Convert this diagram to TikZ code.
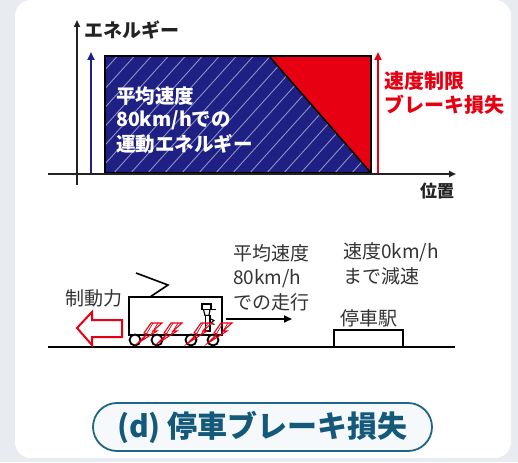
\documentclass[tikz,border=0pt]{standalone}
\usepackage{fontspec}
\setmainfont{Noto Sans CJK JP}
\usetikzlibrary{arrows.meta}
\definecolor{pagebg}{HTML}{E8ECF1}
\definecolor{navy}{HTML}{1E2084}
\definecolor{alarm}{HTML}{E60012}
\definecolor{teal}{HTML}{14597A}
\definecolor{tealline}{HTML}{1D6686}
\definecolor{pillfill}{HTML}{F6F9FB}
\definecolor{ink}{HTML}{222222}
\definecolor{softink}{HTML}{333333}
\newcommand{\fs}[1]{\fontsize{#1}{#1}\selectfont}
\newcommand{\boltpath}{(0,0) -- (9,-9) -- (6,-10) -- (13,-20) -- (24,-20) -- (15,-12) -- (19,-12) -- cycle}
\begin{document}
\begin{tikzpicture}[x=1pt,y=-1pt,
  axis/.style={line width=2pt, ink, -{Triangle[length=7pt,width=6pt]}},
  energyarrow/.style={line width=2.5pt, -{Triangle[length=8pt,width=7pt]}},
  label/.style={inner sep=0pt, text=ink, font=\bfseries\fs{19}},
  note/.style={inner sep=0pt, text=softink, align=left, font=\fs{19}},
  trainline/.style={line width=1.8pt, black},
]
\useasboundingbox (0,0) rectangle (518,462);
\fill[pagebg] (0,0) rectangle (518,462);
\fill[white, rounded corners=16pt] (15,0) rectangle (511,458);

% ---------- energy chart ----------
\coordinate (yb) at (77,185);
\coordinate (yt) at (77,20);
\coordinate (xl) at (48,174);
\coordinate (xr) at (456,174);
\coordinate (r1) at (105,56);
\coordinate (r2) at (269,56);
\coordinate (r3) at (371,56);
\coordinate (r4) at (371,173);
\coordinate (r5) at (105,173);

\fill[navy] (r1) -- (r2) -- (r4) -- (r5) -- cycle;
\begin{scope}
  \clip (r1) -- (r2) -- (r4) -- (r5) -- cycle;
  \foreach \i in {-8,...,18}
    \draw[white, opacity=0.5, line width=0.9pt] (95+\i*17,175) -- ++(112,-124);
\end{scope}
\fill[alarm] (r2) -- (r3) -- (r4) -- cycle;
\draw[line width=1.5pt, black] (r1) rectangle (r4);
\draw[line width=1.5pt, black] (r2) -- (r4);

\draw[axis] (yb) -- (yt);
\draw[axis] (xl) -- (xr);

\coordinate (ba0) at (91,173);
\coordinate (ba1) at (91,52);
\coordinate (ra0) at (378,173);
\coordinate (ra1) at (378,52);
\draw[energyarrow, navy] (ba0) -- (ba1);
\draw[energyarrow, alarm] (ra0) -- (ra1);

\node[label, anchor=west] (elabel) at (84,30) {エネルギー};
\node[label, font=\bfseries\fs{17}] (plabel) at (437,191) {位置};
\node[inner sep=0pt, anchor=west, align=left, text=alarm, font=\bfseries\fs{20}]
  (loss) at (384,93) {速度制限\\[4pt]ブレーキ損失};
\node[inner sep=0pt, anchor=west, align=left, text=white, font=\bfseries\fs{19.5}]
  (kin) at (116,120) {平均速度\\[3.5pt]80km/hでの\\[3.5pt]運動エネルギー};

% ---------- train scene ----------
\coordinate (g0) at (48,347);
\coordinate (g1) at (455,347);
\draw[line width=2pt, black] (g0) -- (g1);

% station
\draw[trainline, fill=white] (334,330) rectangle (403,347);
\node[note, anchor=center] (station) at (369,318) {停車駅};

% pantograph
\coordinate (p0) at (136,273);
\coordinate (p1) at (168,285);
\coordinate (p2) at (150,297);
\draw[line width=1.6pt] (p0) -- (p1) -- (p2);

% car body and wheels
\draw[trainline, fill=white] (129,297) rectangle (222,335);
\foreach \wx in {135,157,191,213}
  \draw[trainline, fill=white] (\wx,340) circle (5.5);

% driver
\draw[line width=1.2pt, fill=white] (202,304) rectangle (211,309.5);
\draw[line width=1.2pt] (201,309.5) -- (216,309.5);
\draw[line width=1.2pt] (203.5,309.5) -- (205,315.5) -- (209,315.5) -- (210,309.5);
\draw[line width=1.2pt, fill=white] (205.5,315.5) rectangle (210,331);
\draw[line width=1.1pt] (210,318.5) -- (214,320.5) -- (210.5,323);
\draw[line width=1.1pt] (210,323) -- (214.5,324.5);

% brake sparks
\foreach \bx in {138,158,188,208}{
  \begin{scope}[shift={(\bx,343)}]
    \begin{scope}
      \clip \boltpath;
      \foreach \k in {-12,-7,...,24}
        \draw[alarm, line width=0.7pt] (\k,0) -- ++(12,-20);
    \end{scope}
    \draw[alarm, line width=1.1pt, line join=miter] \boltpath;
  \end{scope}
}

% braking force arrow
\draw[alarm, line width=2pt, fill=white, line join=miter]
  (77,328) -- (92,312) -- (92,320) -- (122,320) -- (122,337) -- (92,337) -- (92,345) -- cycle;
\node[note, anchor=center, font=\fs{19}] (force) at (94,298) {制動力};

% travel direction
\coordinate (m0) at (226,319);
\coordinate (m1) at (292,319);
\draw[line width=1.8pt, -{Triangle[length=8pt,width=7pt]}] (m0) -- (m1);
\node[note, anchor=north west] (run) at (233,244) {平均速度\\[5pt]80km/h\\[5pt]での走行};
\node[note, anchor=north west] (stop) at (343,242) {速度0km/h\\[5pt]まで減速};

% caption
\node[draw=tealline, line width=1.8pt, fill=pillfill, rounded corners=24pt,
      minimum width=339pt, minimum height=48pt, inner sep=0pt] (cap) at (262.5,427) {};
\node[inner sep=0pt, text=teal, font=\bfseries\fs{30}] (captext) at (cap.center) {(d) 停車ブレーキ損失};
\end{tikzpicture}
\end{document}
